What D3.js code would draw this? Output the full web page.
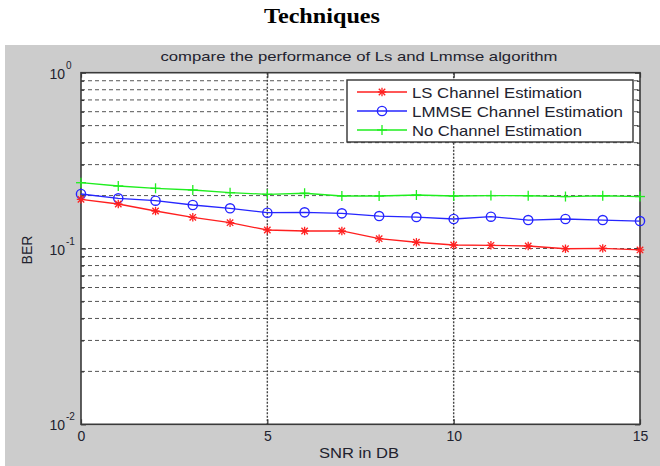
<!DOCTYPE html>
<html>
<head>
<meta charset="utf-8">
<script src="https://cdn.jsdelivr.net/npm/d3@7/dist/d3.min.js"></script>
<style>
  html, body { margin: 0; padding: 0; background: #ffffff; }
  svg { display: block; }
  text { font-family: "Liberation Sans", Arial, sans-serif; fill: #22222e; }
</style>
</head>
<body>
<svg id="chart" width="660" height="466"></svg>
<script>
// SNR (dB) sample points
const snr = [0, 1, 2, 3, 4, 5, 6, 7, 8, 9, 10, 11, 12, 13, 14, 15];

// Bit error rate per estimator
const berLS    = [0.1905, 0.1791, 0.1634, 0.1505, 0.1402, 0.1274, 0.1258, 0.1258,
                  0.1137, 0.1085, 0.1047, 0.1043, 0.1033, 0.0997, 0.1002, 0.0981];
const berLMMSE = [0.2042, 0.1930, 0.1870, 0.1768, 0.1693, 0.1598, 0.1606, 0.1585,
                  0.1530, 0.1510, 0.1472, 0.1517, 0.1452, 0.1472, 0.1452, 0.1433];
const berNone  = [0.2367, 0.2267, 0.2200, 0.2152, 0.2077, 0.2034, 0.2062, 0.1989,
                  0.1989, 0.2015, 0.1989, 0.2000, 0.1995, 0.1975, 0.1995, 0.1975];

const seriesNames = ["LS Channel Estimation", "LMMSE Channel Estimation", "No Channel Estimation"];
const xTicks = [0, 5, 10, 15];
const yDecadeExps = [0, -1, -2];

const pageTitle = "Techniques";
const plotTitle = "compare the performance of Ls and Lmmse algorithm";
const xLabel = "SNR in DB";
const yLabel = "BER";

const svg = d3.select("#chart");

// figure background
svg.append("rect").attr("x", 5).attr("y", 45).attr("width", 655).attr("height", 421)
  .attr("fill", "#cccccc");

// heading above the figure
svg.append("text").attr("x", 322).attr("y", 23).attr("text-anchor", "middle")
  .attr("textLength", 116).attr("lengthAdjust", "spacingAndGlyphs")
  .style("font-family", "'Liberation Serif', 'Times New Roman', serif")
  .style("font-weight", "bold").style("font-size", "21px").style("fill", "#000")
  .text(pageTitle);

const axL = 81, axR = 640, axT = 72.7, axB = 424.3;
const x = d3.scaleLinear().domain([0, 15]).range([axL, axR]);
const y = d3.scaleLog().domain([0.01, 1]).range([axB, axT]);

// axes area
svg.append("rect").attr("x", axL).attr("y", axT)
  .attr("width", axR - axL).attr("height", axB - axT).attr("fill", "#ffffff");

// minor/major horizontal grid values
const yGrid = [];
[0.01, 0.1].forEach(d => { for (let k = 1; k <= 9; k++) yGrid.push(+(d * k).toFixed(3)); });
const yGridInner = yGrid.filter(v => v > 0.01 && v < 1);
const yMinor = yGridInner.filter(v => Math.abs(v - 0.1) > 1e-9);

const grid = svg.append("g");
grid.selectAll("line.h").data(yGridInner).join("line").attr("class", "h")
  .attr("x1", axL).attr("x2", axR)
  .attr("y1", d => y(d)).attr("y2", d => y(d))
  .attr("stroke", "#555").attr("stroke-width", 1).attr("stroke-dasharray", "4,3");
grid.selectAll("line.v").data(xTicks.filter(t => t > 0 && t < 15)).join("line").attr("class", "v")
  .attr("x1", d => x(d)).attr("x2", d => x(d))
  .attr("y1", axT).attr("y2", axB)
  .attr("stroke", "#444").attr("stroke-width", 1.4).attr("stroke-dasharray", "2,1.5");

// tick marks (inward, on all four sides)
function styleAxis(g) {
  g.select(".domain").remove();
  g.selectAll(".tick line").attr("stroke", "#333").attr("stroke-width", 1.2);
}
svg.append("g").attr("transform", `translate(0,${axB})`)
  .call(d3.axisBottom(x).tickValues(xTicks).tickSize(-5).tickPadding(7).tickFormat(d3.format("d")))
  .call(styleAxis)
  .call(g => g.selectAll("text").style("font-size", "14px")
    .style("font-family", "'Liberation Sans', Arial, sans-serif").attr("fill", "#22222e"));
svg.append("g").attr("transform", `translate(0,${axT})`)
  .call(d3.axisTop(x).tickValues(xTicks).tickSize(-5).tickFormat(""))
  .call(styleAxis);
svg.append("g").attr("transform", `translate(${axL},0)`)
  .call(d3.axisLeft(y).tickValues(yMinor).tickSize(-3).tickFormat(""))
  .call(styleAxis);
svg.append("g").attr("transform", `translate(${axR},0)`)
  .call(d3.axisRight(y).tickValues(yMinor).tickSize(-3).tickFormat(""))
  .call(styleAxis);
svg.append("g").attr("transform", `translate(${axL},0)`)
  .call(d3.axisLeft(y).tickValues(yDecadeExps.map(e => Math.pow(10, e))).tickSize(-5).tickFormat(""))
  .call(styleAxis);
svg.append("g").attr("transform", `translate(${axR},0)`)
  .call(d3.axisRight(y).tickValues(yDecadeExps.map(e => Math.pow(10, e))).tickSize(-5).tickFormat(""))
  .call(styleAxis);

// y tick labels: 10^e
const yLab = svg.append("g");
yDecadeExps.forEach(e => {
  const ty = y(Math.pow(10, e));
  yLab.append("text").attr("x", 65).attr("y", ty + 6).attr("text-anchor", "end")
    .style("font-size", "14px").text("10");
  yLab.append("text").attr("x", 66).attr("y", ty - 4).attr("text-anchor", "start")
    .style("font-size", "10px").text(String(e));
});

// axes box
svg.append("rect").attr("x", axL).attr("y", axT)
  .attr("width", axR - axL).attr("height", axB - axT)
  .attr("fill", "none").attr("stroke", "#3a3a3a").attr("stroke-width", 1.6);

// plot title and axis labels
svg.append("text").attr("x", 359).attr("y", 61).attr("text-anchor", "middle")
  .attr("textLength", 397).attr("lengthAdjust", "spacingAndGlyphs")
  .style("font-size", "13px").text(plotTitle);
svg.append("text").attr("x", 359).attr("y", 458).attr("text-anchor", "middle")
  .attr("textLength", 80).attr("lengthAdjust", "spacingAndGlyphs")
  .style("font-size", "14px").text(xLabel);
svg.append("text").attr("transform", "translate(32,250) rotate(-90)").attr("text-anchor", "middle")
  .style("font-size", "14px").text(yLabel);

// marker shapes
function asterisk(g, cx, cy, color) {
  const r = 4.2, rd = 3.2;
  [[-r, 0, r, 0], [0, -r, 0, r], [-rd, -rd, rd, rd], [-rd, rd, rd, -rd]].forEach(s => {
    g.append("line").attr("x1", cx + s[0]).attr("y1", cy + s[1])
      .attr("x2", cx + s[2]).attr("y2", cy + s[3])
      .attr("stroke", color).attr("stroke-width", 1.3);
  });
}
function circle(g, cx, cy, color) {
  g.append("circle").attr("cx", cx).attr("cy", cy).attr("r", 4.6)
    .attr("fill", "none").attr("stroke", color).attr("stroke-width", 1.4);
}
function plus(g, cx, cy, color) {
  const r = 5;
  g.append("line").attr("x1", cx - r).attr("x2", cx + r).attr("y1", cy).attr("y2", cy)
    .attr("stroke", color).attr("stroke-width", 1.3);
  g.append("line").attr("x1", cx).attr("x2", cx).attr("y1", cy - r).attr("y2", cy + r)
    .attr("stroke", color).attr("stroke-width", 1.3);
}

const series = [
  { name: seriesNames[0], values: berLS, color: "#ff1f1f", marker: asterisk },
  { name: seriesNames[1], values: berLMMSE, color: "#2626ff", marker: circle },
  { name: seriesNames[2], values: berNone, color: "#1fee1f", marker: plus }
];

const line = d3.line().x(d => x(d[0])).y(d => y(d[1]));
const plot = svg.append("g");
series.slice().reverse().forEach(s => {
  const pts = snr.map((v, i) => [v, s.values[i]]);
  plot.append("path").attr("d", line(pts)).attr("fill", "none")
    .attr("stroke", s.color).attr("stroke-width", 1.3);
  const mg = plot.append("g");
  pts.forEach(p => s.marker(mg, x(p[0]), y(p[1]), s.color));
});

// legend
const lg = svg.append("g");
lg.append("rect").attr("x", 347).attr("y", 80).attr("width", 286).attr("height", 62)
  .attr("fill", "#ffffff").attr("stroke", "#333").attr("stroke-width", 1.4);
const legendWidths = [170, 211, 170];
series.forEach((s, i) => {
  const ly = 92 + i * 19;
  lg.append("line").attr("x1", 357).attr("x2", 407).attr("y1", ly).attr("y2", ly)
    .attr("stroke", s.color).attr("stroke-width", 1.3);
  s.marker(lg, 382, ly, s.color);
  lg.append("text").attr("x", 412).attr("y", ly + 5.5)
    .attr("textLength", legendWidths[i]).attr("lengthAdjust", "spacingAndGlyphs")
    .style("font-size", "14.5px").text(s.name);
});
</script>
</body>
</html>
